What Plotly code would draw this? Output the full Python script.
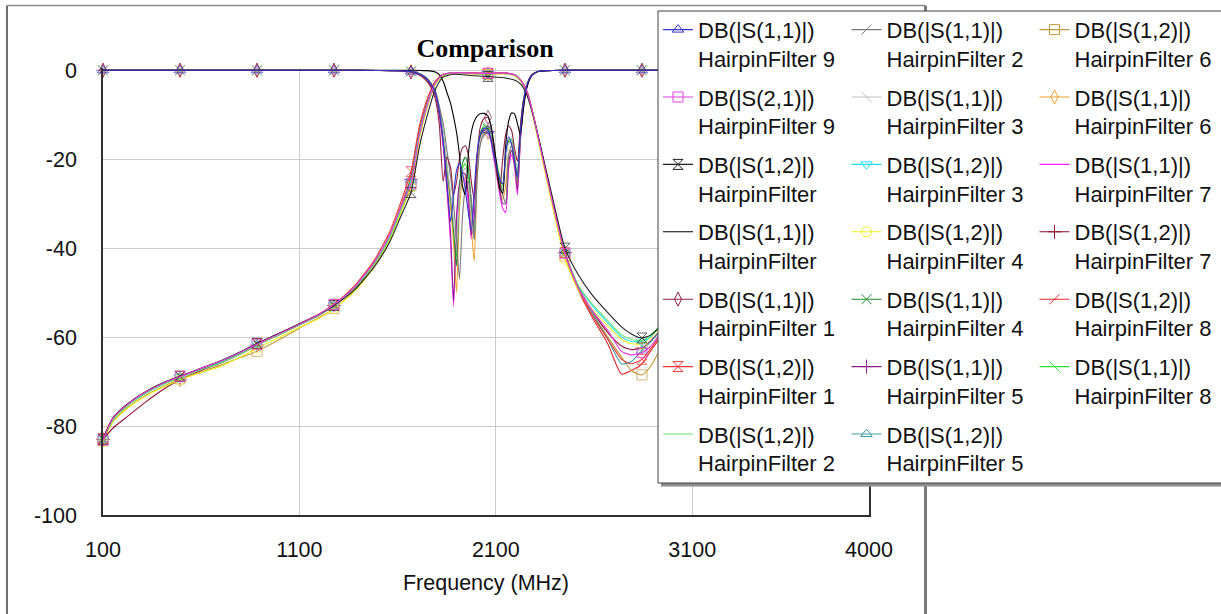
import plotly.graph_objects as go

# ---------------- data ----------------
F_S11 = [100, 492, 884, 1276, 1500, 1600, 1668, 1715, 1745, 1772, 1792, 1812,
         1832, 1851, 1870, 1885, 1900, 1915, 1930, 1945, 1960, 1975, 1990, 2005,
         2020, 2040, 2060, 2075, 2090, 2105, 2120, 2135, 2150, 2165, 2180, 2195,
         2210, 2225, 2240, 2255, 2270, 2285, 2315, 2355, 2452, 2844, 3236, 3628, 4000]

F_S12 = [100, 150, 220, 320, 420, 492, 600, 700, 800, 884,
         1000, 1100, 1200, 1276, 1380, 1480, 1560, 1615, 1668, 1712,
         1752, 1790, 1830, 1890, 1970, 2060, 2140, 2200, 2230, 2260,
         2290, 2330, 2380, 2452, 2520, 2590, 2670, 2740, 2790, 2844,
         2890, 2940, 3040, 3236, 3440, 3628, 3840, 4000]

MARKER_F = [100, 492, 884, 1276, 1668, 2060, 2452, 2844, 3236, 3628]

S11_HF9 = [0, 0, 0, 0, -0.05, -0.1, -0.3, -0.9, -1.8, -3.3, -5, -9,
           -16, -25, -34, -28, -22.5, -21, -23, -27, -32, -36, -27, -18.5,
           -14.5, -13, -13.5, -15.5, -19, -22, -24.5, -25.5, -18.5, -15, -16.5, -20.5,
           -24, -14, -7.5, -3.9, -2, -1, -0.3, -0.1, 0, 0, 0, 0, 0]
S11_HF2 = [0, 0, 0, 0, -0.05, -0.1, -0.25, -0.8, -1.6, -3, -4.6, -8,
           -12, -18, -24, -30, -38, -47, -33, -26.5, -25, -29, -38, -24,
           -17, -14.5, -14, -15, -18, -22, -25.5, -28, -30, -19, -17, -19.5,
           -25, -15, -8, -4.2, -2.2, -1.1, -0.3, -0.1, 0, 0, 0, 0, 0]
S11_HF3 = [0, 0, 0, 0, -0.05, -0.1, -0.3, -0.85, -1.7, -3.1, -4.8, -8.5,
           -14, -21, -28, -34, -40, -28, -23, -22, -25, -33, -38, -22,
           -16, -13.8, -13.6, -15, -18, -22, -25.5, -28, -20, -16.5, -16.2, -19.5,
           -22.5, -13.5, -7.2, -3.9, -2, -1, -0.3, -0.1, 0, 0, 0, 0, 0]
S11_HF6 = [0, 0, 0, 0, -0.05, -0.1, -0.3, -0.9, -1.8, -3.2, -5, -9,
           -15, -23, -31, -39, -50, -31, -25, -24, -27, -35, -43, -24,
           -16.5, -14.2, -14, -15.5, -19, -23.5, -27, -29, -26, -19, -18, -21,
           -26, -15.5, -8, -4.2, -2.2, -1.1, -0.3, -0.1, 0, 0, 0, 0, 0]
S11_HF7 = [0, 0, 0, 0, -0.05, -0.12, -0.35, -1, -2, -3.6, -5.5, -10,
           -17, -27, -39, -53, -34, -26, -24, -25, -30, -38, -29, -19,
           -15, -13.5, -14, -16, -20, -24, -28, -31, -32, -22, -19, -21.5,
           -28, -16, -8.5, -4.4, -2.3, -1.2, -0.3, -0.1, 0, 0, 0, 0, 0]
S11_HF = [0, 0, 0, 0, 0, 0, 0, -0.05, -0.1, -0.2, -0.4, -1,
          -2.5, -5, -7.5, -10.5, -14, -19, -26, -28, -19, -14, -11.5, -10.3,
          -9.8, -9.7, -10.3, -12.5, -16.5, -21.5, -26.5, -27.7, -17, -11.5, -9.6, -9.8,
          -12, -14.5, -9, -4.5, -2.2, -1, -0.3, -0.1, 0, 0, 0, 0, 0]
S11_HF1 = [0, 0, 0, 0, -0.05, -0.15, -0.4, -1.2, -2.3, -4, -6.5, -12,
           -25, -19.5, -22, -28, -25, -20, -17.5, -17, -19, -25, -29, -19.5,
           -13, -10.8, -10.6, -12.5, -17, -23, -27, -20, -14.5, -12.5, -13.5, -17.5,
           -20.5, -12.5, -6.8, -3.8, -1.9, -1, -0.3, -0.1, 0, 0, 0, 0, 0]
S11_HF4 = [0, 0, 0, 0, -0.05, -0.1, -0.3, -0.85, -1.7, -3.1, -4.8, -8.5,
           -14.5, -22, -29, -36, -44, -27, -21, -19.5, -22, -30, -38, -21,
           -15, -13, -13.2, -14.8, -18, -21.5, -25, -27, -19.5, -16, -16.5, -20,
           -23.5, -13.5, -7.2, -3.9, -2, -1, -0.3, -0.1, 0, 0, 0, 0, 0]
S11_HF5 = [0, 0, 0, 0, -0.05, -0.12, -0.35, -1, -2, -3.5, -5.4, -9.8,
           -16.5, -26, -37, -52, -33, -25.5, -23, -23.5, -28, -37, -33, -20,
           -15, -13.5, -13.8, -15.5, -19, -23, -27, -30, -30, -21, -18, -21,
           -27, -15.5, -8, -4.2, -2.2, -1.1, -0.3, -0.1, 0, 0, 0, 0, 0]
S11_HF8 = [0, 0, 0, 0, -0.05, -0.1, -0.3, -0.85, -1.7, -3.1, -4.8, -8.5,
           -14, -21.5, -28.5, -35, -42, -27, -22, -21, -24, -31, -37, -21,
           -14.5, -12.5, -12.8, -14.5, -17.5, -21, -24, -26, -20, -15.8, -15.5, -19,
           -23, -13, -7, -3.8, -1.9, -1, -0.3, -0.1, 0, 0, 0, 0, 0]

S12_HF3 = [-83, -78.5, -75.5, -72.5, -70.3, -69, -67.2, -65.6, -63.6, -61.6,
           -59.3, -57.2, -55, -52.8, -49, -43.5, -37.5, -31.5, -25, -14,
           -7.5, -3, -1.1, -0.6, -0.7, -0.8, -0.7, -1.2, -2.5, -5,
           -10, -17.8, -27.8, -41, -48.5, -52.8, -56.8, -60, -61, -61,
           -59.8, -57.5, -53.5, -48, -44, -41, -38, -36]
S12_HF6 = [-83.3, -79, -76, -73, -70.8, -69.4, -67.8, -66.3, -64.6, -63.2,
           -60.5, -58, -55.6, -53.6, -49.6, -44, -38, -32, -26, -15,
           -8, -3.3, -1.2, -0.7, -0.8, -0.9, -0.8, -1.3, -2.6, -5.2,
           -10.3, -18.2, -28.3, -41.8, -49.5, -54.5, -60, -64.5, -67.5, -68.5,
           -66.5, -62.5, -56, -49, -45, -42, -39, -37]
S21_HF9 = [-83.2, -78.3, -75.3, -72.3, -70.1, -68.9, -67, -65.4, -63.4, -61.6,
           -59.2, -57.1, -54.9, -52.7, -48.8, -43.2, -37, -31, -25.5, -14.3,
           -7.6, -3, -1, -0.6, -0.6, -0.7, -0.6, -1.1, -2.4, -5,
           -10, -18, -28, -41.2, -49, -54, -58.5, -63.2, -64, -63.5,
           -62, -59, -54.5, -48.5, -44.5, -41.5, -38.5, -36.5]
S12_HF = [-83, -78.2, -75.2, -72.2, -70, -68.8, -67, -65.3, -63.3, -61.4,
          -59.1, -57, -54.9, -52.9, -49.4, -44.3, -38.6, -33, -27.5, -17,
          -10, -4.5, -1.6, -0.9, -1.2, -1.4, -1.7, -2.3, -3.3, -5.8,
          -10.2, -17.5, -27, -40, -46, -50.5, -54.5, -57.7, -59.3, -60.2,
          -59.5, -57.5, -54, -48.5, -44.5, -41.5, -38.5, -36.5]
S12_HF4 = [-83.5, -79.2, -76.2, -73.2, -71, -69.6, -68, -66.6, -64.5, -62.5,
           -60, -57.8, -55.8, -53.6, -49.8, -44.3, -38.3, -32.2, -26.2, -15.2,
           -8.2, -3.4, -1.3, -0.7, -0.8, -0.9, -0.8, -1.3, -2.7, -5.4,
           -10.6, -18.8, -29, -42.5, -49.5, -53.8, -57.5, -60.5, -61.5, -61.5,
           -60, -57.8, -54, -48.5, -44.5, -41.5, -38.5, -36.5]
S12_HF7 = [-83, -80.5, -78, -74.5, -71.4, -69.6, -67.5, -65.8, -63.8, -61.8,
           -59.4, -57.3, -55.1, -52.9, -49, -43.6, -37.4, -31.2, -24.6, -13.6,
           -7.2, -2.9, -1, -0.6, -0.7, -0.8, -0.7, -1.2, -2.5, -5,
           -10, -17.8, -27.8, -41, -48.8, -54, -59, -62, -62.8, -62.5,
           -60.8, -58.3, -54, -48.5, -44.5, -41.5, -38.5, -36.5]
S12_HF8 = [-82.8, -78.3, -75.3, -72.3, -70.2, -68.9, -67.1, -65.5, -63.5, -61.5,
           -59.2, -57.1, -54.9, -52.7, -48.8, -43.2, -37.1, -30.8, -24, -13.3,
           -7, -2.8, -1, -0.6, -0.6, -0.7, -0.6, -1.1, -2.4, -4.9,
           -9.9, -17.7, -27.7, -41.2, -49.5, -55.5, -61.5, -68.3, -67.5, -66,
           -63, -60, -55, -49, -45, -42, -39, -37]
S12_HF1 = [-82.8, -78.2, -75.2, -72.2, -70.1, -68.8, -67, -65.4, -63.4, -61.5,
           -59.1, -57, -54.8, -52.6, -48.5, -42.8, -36.3, -29.8, -22.8, -12.3,
           -6.3, -2.6, -0.9, -0.6, -0.6, -0.7, -0.6, -1.1, -2.4, -4.9,
           -9.9, -17.7, -27.7, -41, -49, -55, -60.5, -65, -66, -65,
           -62.5, -59.5, -54.5, -48.8, -44.8, -41.8, -38.8, -36.8]
S12_HF2 = [-83.1, -78.6, -75.6, -72.6, -70.4, -69.1, -67.3, -65.8, -63.8, -61.8,
           -59.4, -57.3, -55.1, -52.9, -49.1, -43.6, -37.6, -31.6, -25.2, -14.2,
           -7.6, -3.1, -1.1, -0.6, -0.7, -0.8, -0.7, -1.2, -2.5, -5,
           -10, -17.8, -27.8, -41, -48.3, -52.5, -56.3, -59.5, -60.5, -60.8,
           -59.5, -57.2, -53.5, -48, -44, -41, -38, -36]
S12_HF5 = [-83, -78.5, -75.5, -72.5, -70.3, -69, -67.2, -65.6, -63.6, -61.6,
           -59.3, -57.2, -55, -52.8, -49, -43.4, -37.3, -31.2, -24.7, -13.8,
           -7.3, -2.9, -1, -0.6, -0.7, -0.8, -0.7, -1.2, -2.5, -5,
           -10, -17.9, -27.9, -41.2, -49, -54.5, -60.5, -66, -65.5, -63,
           -61, -58.5, -54, -48.5, -44.5, -41.5, -38.5, -36.5]

X_TICKS = [100, 1100, 2100, 3100, 4000]
X_TICK_TEXT = ["100", "1100", "2100", "3100", "4000"]
Y_TICKS = [0, -20, -40, -60, -80, -100]
Y_TICK_TEXT = ["0", "-20", "-40", "-60", "-80", "-100"]

# legend layout: (legend column, label, x grid, y data, color, marker symbol)
SERIES = [
    # column 1
    ("legend",  "DB(|S(1,1)|)<br>HairpinFilter 9", F_S11, S11_HF9, "#3535c8", "triangle-up-open"),
    ("legend",  "DB(|S(2,1)|)<br>HairpinFilter 9", F_S12, S21_HF9, "#e040e0", "square-open"),
    ("legend",  "DB(|S(1,2)|)<br>HairpinFilter",   F_S12, S12_HF,  "#202020", "hourglass-open"),
    ("legend",  "DB(|S(1,1)|)<br>HairpinFilter",   F_S11, S11_HF,  "#000000", None),
    ("legend",  "DB(|S(1,1)|)<br>HairpinFilter 1", F_S11, S11_HF1, "#902040", "diamond-tall-open"),
    ("legend",  "DB(|S(1,2)|)<br>HairpinFilter 1", F_S12, S12_HF1, "#e83838", "hourglass-open"),
    ("legend",  "DB(|S(1,2)|)<br>HairpinFilter 2", F_S12, S12_HF2, "#70e070", None),
    # column 2
    ("legend2", "DB(|S(1,1)|)<br>HairpinFilter 2", F_S11, S11_HF2, "#7a7a7a", "line-ne-open"),
    ("legend2", "DB(|S(1,1)|)<br>HairpinFilter 3", F_S11, S11_HF3, "#bdbdbd", "line-nw-open"),
    ("legend2", "DB(|S(1,2)|)<br>HairpinFilter 3", F_S12, S12_HF3, "#20e0f0", "triangle-down-open"),
    ("legend2", "DB(|S(1,2)|)<br>HairpinFilter 4", F_S12, S12_HF4, "#f0f020", "circle-open"),
    ("legend2", "DB(|S(1,1)|)<br>HairpinFilter 4", F_S11, S11_HF4, "#208a30", "x-thin-open"),
    ("legend2", "DB(|S(1,1)|)<br>HairpinFilter 5", F_S11, S11_HF5, "#902090", "cross-thin-open"),
    ("legend2", "DB(|S(1,2)|)<br>HairpinFilter 5", F_S12, S12_HF5, "#40a0a8", "triangle-up-open"),
    # column 3
    ("legend3", "DB(|S(1,2)|)<br>HairpinFilter 6", F_S12, S12_HF6, "#c09a3a", "square-open"),
    ("legend3", "DB(|S(1,1)|)<br>HairpinFilter 6", F_S11, S11_HF6, "#f0a030", "diamond-tall-open"),
    ("legend3", "DB(|S(1,1)|)<br>HairpinFilter 7", F_S11, S11_HF7, "#ff20ff", None),
    ("legend3", "DB(|S(1,2)|)<br>HairpinFilter 7", F_S12, S12_HF7, "#901030", "cross-thin-open"),
    ("legend3", "DB(|S(1,2)|)<br>HairpinFilter 8", F_S12, S12_HF8, "#e02828", "line-ne-open"),
    ("legend3", "DB(|S(1,1)|)<br>HairpinFilter 8", F_S11, S11_HF8, "#30e030", "line-nw-open"),
]

# ---------------- figure ----------------
FONT = "Liberation Sans, Arial, sans-serif"
W, H = 1221, 614
ML, MR, MT, MB = 103, 352, 68, 99
PW, PH = W - ML - MR, H - MT - MB
LW = 1.1
MSIZE = 10


def px_x(px):
    return (px - ML) / PW


def px_y(py):
    return (H - MB - py) / PH


fig = go.Figure()

for i in reversed(range(len(SERIES))):  # first legend entry drawn last (on top)
    leg, name, xs, ys, color, sym = SERIES[i]
    line = dict(color=color, width=LW, shape="spline", smoothing=0.6)
    grp = "g%d" % i
    if sym is None:
        fig.add_trace(go.Scatter(x=xs, y=ys, mode="lines", line=line, name=name,
                                 legend=leg, legendgroup=grp, legendrank=100 + i,
                                 showlegend=True))
    else:
        sizes = [MSIZE if f in MARKER_F else 0 for f in xs]
        mk = dict(symbol=sym, color=color, line=dict(color=color, width=1))
        fig.add_trace(go.Scatter(x=xs, y=ys, mode="lines+markers", line=line,
                                 marker=dict(size=sizes, **mk), cliponaxis=False,
                                 name=name, legend=leg, legendgroup=grp,
                                 legendrank=100 + i, showlegend=False))
        # legend swatch (no data points)
        fig.add_trace(go.Scatter(x=[None], y=[None], mode="lines+markers", line=line,
                                 marker=dict(size=MSIZE, **mk), name=name, legend=leg,
                                 legendgroup=grp, legendrank=100 + i, showlegend=True,
                                 hoverinfo="skip"))

legend_style = dict(bgcolor="rgba(0,0,0,0)", borderwidth=0,
                    font=dict(family=FONT, size=22, color="#111111"),
                    traceorder="grouped", tracegroupgap=7.2, valign="top",
                    itemsizing="trace", xanchor="left", yanchor="top",
                    maxheight=1000, itemclick=False, itemdoubleclick=False)

LEG_TOP = 8.8
fig.update_layout(
    width=W, height=H, autosize=False,
    margin=dict(l=ML, r=MR, t=MT, b=MB, pad=0, autoexpand=False),
    paper_bgcolor="white", plot_bgcolor="white",
    showlegend=True,
    legend=dict(x=px_x(658), y=px_y(LEG_TOP), **legend_style),
    legend2=dict(x=px_x(846.5), y=px_y(LEG_TOP), **legend_style),
    legend3=dict(x=px_x(1034.5), y=px_y(LEG_TOP), **legend_style),
    title=dict(text="<b>Comparison</b>", font=dict(family="Liberation Serif, Times New Roman, serif",
                                                  size=26, color="black"),
               xref="paper", x=px_x(485), xanchor="center",
               yref="container", y=1 - 48 / H, yanchor="middle"),
    font=dict(family=FONT, color="#111111"),
)

fig.update_xaxes(range=[100, 4000], tickmode="array", tickvals=X_TICKS, ticktext=X_TICK_TEXT,
                 showgrid=True, gridcolor="#cccccc", gridwidth=1.3, zeroline=False,
                 showline=True, linecolor="#303030", linewidth=1.5, mirror=False,
                 ticks="", ticklabelstandoff=14,
                 tickfont=dict(family=FONT, size=21.5, color="#111111"),
                 title=dict(text="Frequency (MHz)", font=dict(family=FONT, size=21.5, color="#111111"),
                            standoff=14))
fig.update_yaxes(range=[-100, 0.5], tickmode="array", tickvals=Y_TICKS, ticktext=Y_TICK_TEXT,
                 showgrid=True, gridcolor="#cccccc", gridwidth=1.3, zeroline=False,
                 showline=True, linecolor="#303030", linewidth=1.5, mirror=True,
                 ticks="", ticklabelstandoff=20,
                 tickfont=dict(family=FONT, size=21.5, color="#111111"))

shapes = []
# outer window frame
shapes.append(dict(type="line", xref="paper", yref="paper", x0=px_x(7), x1=px_x(7), y0=px_y(5.5), y1=px_y(640),
                   line=dict(color="#404040", width=1.5), layer="above"))
shapes.append(dict(type="line", xref="paper", yref="paper", x0=px_x(7), x1=px_x(925), y0=px_y(5.5), y1=px_y(5.5),
                   line=dict(color="#8a8a8a", width=1.5), layer="above"))
shapes.append(dict(type="line", xref="paper", yref="paper", x0=px_x(925.5), x1=px_x(925.5), y0=px_y(5.5), y1=px_y(640),
                   line=dict(color="#7a7a7a", width=3), layer="above"))
# legend box with shadow
shapes.append(dict(type="rect", xref="paper", yref="paper", x0=px_x(661), x1=px_x(1240), y0=px_y(14), y1=px_y(486.5),
                   line=dict(width=0), fillcolor="#8c8c8c", layer="above"))
shapes.append(dict(type="rect", xref="paper", yref="paper", x0=px_x(658), x1=px_x(1236), y0=px_y(11), y1=px_y(483),
                   line=dict(color="#404040", width=1), fillcolor="white", layer="above"))
fig.update_layout(shapes=shapes)

fig.write_html("out.html")
